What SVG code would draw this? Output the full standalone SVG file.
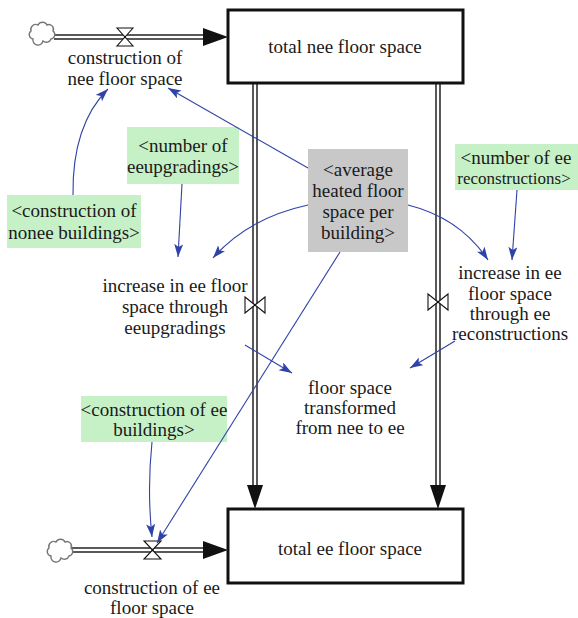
<svg xmlns="http://www.w3.org/2000/svg" width="578" height="618" viewBox="0 0 578 618">
  <style>
    text { font-family: "Liberation Serif", "Times New Roman", serif; font-size: 19px; fill: #1a1a1a; text-anchor: middle; }
    .stock { fill: #ffffff; stroke: #111111; stroke-width: 3; }
    .pipe-out { fill: none; stroke: #222222; stroke-width: 5.5; }
    .pipe-in { fill: none; stroke: #ffffff; stroke-width: 2.5; }
    .pipe-head { fill: #111111; }
    .valve { fill: #ffffff; stroke: #111111; stroke-width: 1.1; }
    .cloud { fill: #ffffff; stroke: #777777; stroke-width: 1.4; }
    .shadow { fill: #c6f1c6; }
    .gray { fill: #c8c8c8; }
    .link { fill: none; stroke: #2f42a8; stroke-width: 1.1; marker-end: url(#arr); }
  </style>
  <defs>
    <marker id="arr" markerUnits="userSpaceOnUse" markerWidth="14" markerHeight="10" refX="13" refY="4.5" orient="auto">
      <path d="M0,0 L13,4.5 L0,9 L3,4.5 Z" fill="#2f42a8"/>
    </marker>
    <path id="cloudShape" d="M-9,6 a4.5,4.5 0 0 1 -2,-8 a5,5 0 0 1 7,-6 a5,5 0 0 1 9,0 a4.5,4.5 0 0 1 6,6 a4.5,4.5 0 0 1 -2,8 a5,5 0 0 1 -8,2 a5,5 0 0 1 -10,-2 z"/>
  </defs>

  <!-- flow pipes -->
  <g id="pipes">
    <path class="pipe-out" d="M54,37 H205"/>
    <path class="pipe-in" d="M54,37 H205"/>
    <path class="pipe-head" d="M203,28 L228,37 L203,46 Z"/>

    <path class="pipe-out" d="M72,550 H205"/>
    <path class="pipe-in" d="M72,550 H205"/>
    <path class="pipe-head" d="M203,541 L228,550 L203,559 Z"/>

    <path class="pipe-out" d="M255,83 V487"/>
    <path class="pipe-in" d="M255,83 V487"/>
    <path class="pipe-head" d="M247,485 L263,485 L255,509 Z"/>

    <path class="pipe-out" d="M438,83 V487"/>
    <path class="pipe-in" d="M438,83 V487"/>
    <path class="pipe-head" d="M430,485 L446,485 L438,509 Z"/>
  </g>

  <!-- sources -->
  <g id="cloud-top"><use href="#cloudShape" class="cloud" transform="translate(42,33)"/></g>
  <g id="cloud-bottom"><use href="#cloudShape" class="cloud" transform="translate(60,550)"/></g>

  <!-- stocks -->
  <g id="total-nee-floor-space">
    <rect class="stock" x="228" y="10" width="235" height="73"/>
    <text x="345" y="53">total nee floor space</text>
  </g>
  <g id="total-ee-floor-space">
    <rect class="stock" x="228" y="509" width="235" height="74"/>
    <text x="350" y="555">total ee floor space</text>
  </g>

  <!-- flows -->
  <g id="construction-of-nee-floor-space">
    <path class="valve" d="M117,28 L133,28 L125,37 Z M117,46 L133,46 L125,37 Z"/>
    <circle cx="125" cy="37" r="1.2" fill="#111"/>
    <text x="125" y="64">construction of</text>
    <text x="125" y="85">nee floor space</text>
  </g>
  <g id="construction-of-ee-floor-space">
    <path class="valve" d="M144,541 L161,541 L152.5,550 Z M144,559 L161,559 L152.5,550 Z"/>
    <circle cx="152.5" cy="550" r="1.2" fill="#111"/>
    <text x="152" y="594">construction of ee</text>
    <text x="152" y="614">floor space</text>
  </g>
  <g id="increase-through-eeupgradings">
    <path class="valve" d="M245,297 L245,313 L255,305 Z M265,297 L265,313 L255,305 Z"/>
    <circle cx="255" cy="305" r="1.2" fill="#111"/>
    <text x="175" y="292">increase in ee floor</text>
    <text x="175" y="313">space through</text>
    <text x="175" y="334">eeupgradings</text>
  </g>
  <g id="increase-through-ee-reconstructions">
    <path class="valve" d="M428,294 L428,310 L438,302 Z M448,294 L448,310 L438,302 Z"/>
    <circle cx="438" cy="302" r="1.2" fill="#111"/>
    <text x="510" y="279">increase in ee</text>
    <text x="510" y="300">floor space</text>
    <text x="510" y="320">through ee</text>
    <text x="510" y="340">reconstructions</text>
  </g>

  <!-- auxiliaries and shadow variables -->
  <g id="floor-space-transformed">
    <text x="350" y="394">floor space</text>
    <text x="350" y="414">transformed</text>
    <text x="350" y="434">from nee to ee</text>
  </g>
  <g id="number-of-eeupgradings">
    <rect class="shadow" x="127" y="127" width="112" height="57"/>
    <text x="183" y="152">&lt;number of</text>
    <text x="183" y="173">eeupgradings&gt;</text>
  </g>
  <g id="construction-of-nonee-buildings">
    <rect class="shadow" x="7" y="195" width="134" height="53"/>
    <text x="74" y="217">&lt;construction of</text>
    <text x="74" y="239">nonee buildings&gt;</text>
  </g>
  <g id="average-heated-floor-space">
    <rect class="gray" x="308" y="149" width="100" height="103"/>
    <text x="358" y="176">&lt;average</text>
    <text x="358" y="197">heated floor</text>
    <text x="358" y="218">space per</text>
    <text x="358" y="239">building&gt;</text>
  </g>
  <g id="number-of-ee-reconstructions">
    <rect class="shadow" x="455" y="144" width="123" height="46"/>
    <text x="516" y="164">&lt;number of ee</text>
    <text x="514" y="184" style="font-size:17px">reconstructions&gt;</text>
  </g>
  <g id="construction-of-ee-buildings">
    <rect class="shadow" x="81" y="396" width="146" height="46"/>
    <text x="154" y="416">&lt;construction of ee</text>
    <text x="154" y="436">buildings&gt;</text>
  </g>

  <!-- information links -->
  <g id="connectors">
    <path class="link" d="M73,195 Q72,125 108,89"/>
    <path class="link" d="M308,168 L168,88"/>
    <path class="link" d="M308,205 Q248,218 213,258"/>
    <path class="link" d="M182,184 L178,257"/>
    <path class="link" d="M408,205 Q460,218 488,260"/>
    <path class="link" d="M517,190 L512,260"/>
    <path class="link" d="M340,252 L157,543"/>
    <path class="link" d="M152,442 Q147,490 152,537"/>
    <path class="link" d="M245,345 L292,373"/>
    <path class="link" d="M455,341 L410,368"/>
  </g>
</svg>
